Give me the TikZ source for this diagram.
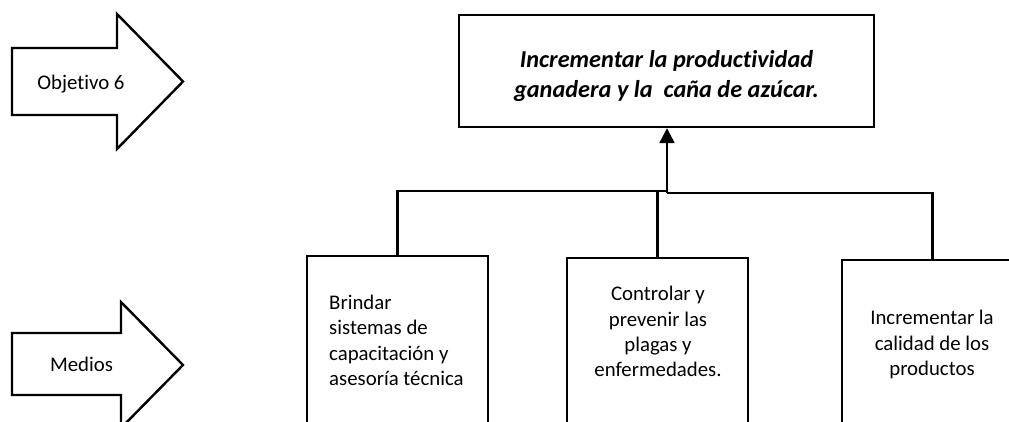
\documentclass[tikz,border=0pt]{standalone}
\usepackage{fontspec}
\setmainfont{Carlito}[Ligatures={NoCommon}]
\usetikzlibrary{arrows.meta}
\begin{document}
\begin{tikzpicture}[x=1pt,y=-1pt,
  line width=2.4pt, line join=miter,
  bx/.style={draw, rectangle, inner sep=0pt, minimum width=181pt, minimum height=200pt, anchor=north},
  txt/.style={inner sep=0pt, font=\fontsize{20.8}{25.4}\selectfont},
  goaltxt/.style={inner sep=0pt, align=center, font=\fontsize{24.3}{30}\selectfont\bfseries\itshape},
  bigarrow/.style={draw, fill=white}]
\useasboundingbox (0,0) rectangle (1009,421);
\clip (0,0) rectangle (1009,421);
% side arrows
\draw[bigarrow] (12,48) -- (117,48) -- (117,14) -- (183,81.5) -- (117,149) -- (117,115) -- (12,115) -- cycle;
\node[txt, anchor=base] (obj) at (81,89) {Objetivo 6};
\draw[bigarrow] (12,333) -- (121,333) -- (121,302) -- (183,365) -- (121,428) -- (121,395) -- (12,395) -- cycle;
\node[txt, anchor=base] (med) at (81.5,371.5) {Medios};
% goal
\node[draw, rectangle, inner sep=0pt, minimum width=415pt, minimum height=112pt] (goal) at (666.5,71) {};
\node[goaltxt] (goaltext) at (666.5,76.5) {Incrementar la productividad\\ganadera y la~ caña de azúcar.};
% medios boxes
\node[bx] (m1) at (397.5,255) {};
\node[bx] (m2) at (657.5,257) {};
\node[bx] (m3) at (932.5,259) {};
\node[txt, align=left, anchor=west] (t1) at (328,340.2) {Brindar\\sistemas de\\capacitación y\\asesoría técnica};
\node[txt, align=center] (t2) at (658,331.7) {Controlar y\\prevenir las\\plagas y\\enfermedades.};
\node[txt, align=center] (t3) at (932,344.5) {Incrementar la\\calidad de los\\productos};
% connectors
\coordinate (jL) at (667,191);
\coordinate (jR) at (667,193);
\draw (m1.north) |- (jL);
\draw (m2.north) -- (m2.north |- jL);
\draw (m3.north) |- (jR);
\draw[-{Triangle[length=15pt,width=15pt]}] (jR) -- (jR |- goal.south);
\end{tikzpicture}
\end{document}
